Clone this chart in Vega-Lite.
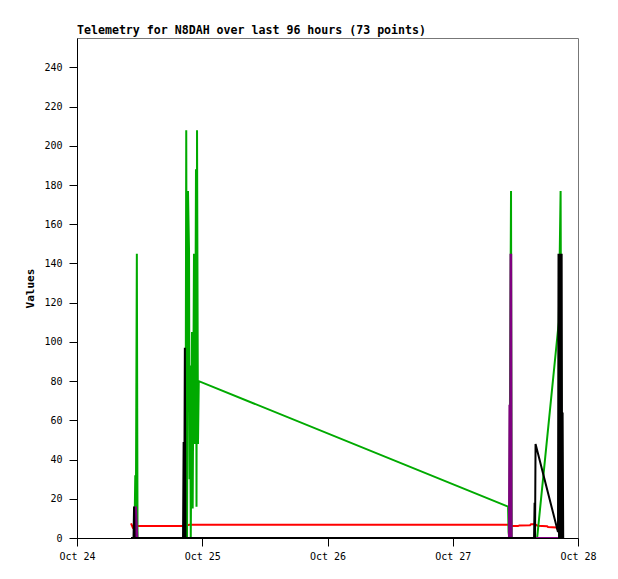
{
  "$schema": "https://vega.github.io/schema/vega-lite/v6.json",
  "width": 501,
  "height": 500,
  "autosize": {"type": "none"},
  "padding": {"left": 77, "top": 38, "right": 40, "bottom": 41},
  "background": "white",
  "title": {
    "text": "Telemetry for N8DAH over last 96 hours (73 points)",
    "anchor": "start",
    "frame": "group",
    "font": "DejaVu Sans Mono",
    "fontSize": 11.6,
    "fontWeight": "bold",
    "color": "black",
    "offset": 1
  },
  "config": {
    "view": {"stroke": "#777777", "strokeWidth": 1},
    "axis": {
      "domainColor": "black",
      "tickColor": "black",
      "labelColor": "black",
      "labelFont": "DejaVu Sans Mono",
      "labelFontSize": 10,
      "grid": false,
      "tickSize": 8
    }
  },
  "data": {
    "values": [
      {"t": "2023-10-24T10:21", "c": "red", "v": 7.5},
      {"t": "2023-10-24T10:40", "c": "red", "v": 5.5},
      {"t": "2023-10-24T10:50", "c": "red", "v": 6.1},
      {"t": "2023-10-24T20:30", "c": "red", "v": 6.1},
      {"t": "2023-10-24T21:30", "c": "red", "v": 6.8},
      {"t": "2023-10-27T10:40", "c": "red", "v": 6.8},
      {"t": "2023-10-27T11:10", "c": "red", "v": 6.1},
      {"t": "2023-10-27T12:31", "c": "red", "v": 6.1},
      {"t": "2023-10-27T12:45", "c": "red", "v": 6.4},
      {"t": "2023-10-27T14:49", "c": "red", "v": 6.5},
      {"t": "2023-10-27T15:00", "c": "red", "v": 7.0},
      {"t": "2023-10-27T15:45", "c": "red", "v": 7.0},
      {"t": "2023-10-27T16:15", "c": "red", "v": 6.3},
      {"t": "2023-10-27T18:05", "c": "red", "v": 6.0},
      {"t": "2023-10-27T18:15", "c": "red", "v": 5.6},
      {"t": "2023-10-27T19:50", "c": "red", "v": 5.4},
      {"t": "2023-10-27T20:11", "c": "red", "v": 4.1},

      {"t": "2023-10-24T10:21", "c": "green", "v": 0},
      {"t": "2023-10-24T11:00", "c": "green", "v": 0},
      {"t": "2023-10-24T11:10", "c": "green", "v": 32},
      {"t": "2023-10-24T11:16", "c": "green", "v": 0},
      {"t": "2023-10-24T11:28", "c": "green", "v": 145},
      {"t": "2023-10-24T11:36", "c": "green", "v": 0},
      {"t": "2023-10-24T20:47", "c": "green", "v": 0},
      {"t": "2023-10-24T20:56", "c": "green", "v": 208},
      {"t": "2023-10-24T21:05", "c": "green", "v": 0},
      {"t": "2023-10-24T21:16", "c": "green", "v": 177},
      {"t": "2023-10-24T21:28", "c": "green", "v": 147},
      {"t": "2023-10-24T21:34", "c": "green", "v": 30},
      {"t": "2023-10-24T21:40", "c": "green", "v": 88},
      {"t": "2023-10-24T21:48", "c": "green", "v": 0},
      {"t": "2023-10-24T21:57", "c": "green", "v": 63},
      {"t": "2023-10-24T22:02", "c": "green", "v": 105},
      {"t": "2023-10-24T22:10", "c": "green", "v": 15},
      {"t": "2023-10-24T22:25", "c": "green", "v": 145},
      {"t": "2023-10-24T22:37", "c": "green", "v": 48},
      {"t": "2023-10-24T22:48", "c": "green", "v": 188},
      {"t": "2023-10-24T22:54", "c": "green", "v": 16},
      {"t": "2023-10-24T23:00", "c": "green", "v": 208},
      {"t": "2023-10-24T23:11", "c": "green", "v": 48},
      {"t": "2023-10-24T23:20", "c": "green", "v": 80},
      {"t": "2023-10-27T10:36", "c": "green", "v": 16},
      {"t": "2023-10-27T10:42", "c": "green", "v": 3},
      {"t": "2023-10-27T10:50", "c": "green", "v": 0},
      {"t": "2023-10-27T11:10", "c": "green", "v": 177},
      {"t": "2023-10-27T11:17", "c": "green", "v": 0},
      {"t": "2023-10-27T16:10", "c": "green", "v": 0},
      {"t": "2023-10-27T20:19", "c": "green", "v": 110},
      {"t": "2023-10-27T20:40", "c": "green", "v": 177},
      {"t": "2023-10-27T20:52", "c": "green", "v": 0},

      {"t": "2023-10-24T10:21", "c": "purple", "v": 0},
      {"t": "2023-10-24T11:00", "c": "purple", "v": 0},
      {"t": "2023-10-24T11:05", "c": "purple", "v": 16},
      {"t": "2023-10-24T11:12", "c": "purple", "v": 0},
      {"t": "2023-10-24T11:18", "c": "purple", "v": 16},
      {"t": "2023-10-24T11:26", "c": "purple", "v": 8},
      {"t": "2023-10-24T11:34", "c": "purple", "v": 0},
      {"t": "2023-10-27T10:46", "c": "purple", "v": 0},
      {"t": "2023-10-27T10:52", "c": "purple", "v": 68},
      {"t": "2023-10-27T10:58", "c": "purple", "v": 0},
      {"t": "2023-10-27T11:04", "c": "purple", "v": 145},
      {"t": "2023-10-27T11:08", "c": "purple", "v": 0},
      {"t": "2023-10-27T11:12", "c": "purple", "v": 145},
      {"t": "2023-10-27T11:17", "c": "purple", "v": 0},
      {"t": "2023-10-27T21:10", "c": "purple", "v": 0},

      {"t": "2023-10-24T10:21", "c": "black", "v": 0},
      {"t": "2023-10-24T10:50", "c": "black", "v": 0},
      {"t": "2023-10-24T10:56", "c": "black", "v": 16},
      {"t": "2023-10-24T11:02", "c": "black", "v": 0},
      {"t": "2023-10-24T20:19", "c": "black", "v": 0},
      {"t": "2023-10-24T20:26", "c": "black", "v": 49},
      {"t": "2023-10-24T20:32", "c": "black", "v": 0},
      {"t": "2023-10-24T20:40", "c": "black", "v": 97},
      {"t": "2023-10-24T20:47", "c": "black", "v": 0},
      {"t": "2023-10-27T15:35", "c": "black", "v": 0},
      {"t": "2023-10-27T15:41", "c": "black", "v": 18},
      {"t": "2023-10-27T15:46", "c": "black", "v": 0},
      {"t": "2023-10-27T15:52", "c": "black", "v": 48},
      {"t": "2023-10-27T20:10", "c": "black", "v": 3},
      {"t": "2023-10-27T20:16", "c": "black", "v": 145},
      {"t": "2023-10-27T20:22", "c": "black", "v": 0},
      {"t": "2023-10-27T20:28", "c": "black", "v": 145},
      {"t": "2023-10-27T20:34", "c": "black", "v": 0},
      {"t": "2023-10-27T20:40", "c": "black", "v": 145},
      {"t": "2023-10-27T20:46", "c": "black", "v": 0},
      {"t": "2023-10-27T20:52", "c": "black", "v": 145},
      {"t": "2023-10-27T20:58", "c": "black", "v": 0},
      {"t": "2023-10-27T21:03", "c": "black", "v": 64},
      {"t": "2023-10-27T21:10", "c": "black", "v": 0}
    ]
  },
  "encoding": {
    "x": {
      "field": "t",
      "type": "temporal",
      "scale": {
        "domain": [{"year": 2023, "month": 10, "date": 24}, {"year": 2023, "month": 10, "date": 28}],
        "nice": false
      },
      "axis": {
        "title": null,
        "format": "%b %d",
        "tickCount": {"interval": "day", "step": 1},
        "labelPadding": 5,
        "labelFlush": false,
        "labelOverlap": false
      }
    },
    "y": {
      "field": "v",
      "type": "quantitative",
      "scale": {"domain": [0, 255], "nice": false, "zero": true},
      "axis": {
        "title": "Values",
        "titleFont": "DejaVu Sans Mono",
        "titleFontSize": 11,
        "titleFontWeight": "bold",
        "titleColor": "black",
        "titlePadding": 8,
        "values": [0, 20, 40, 60, 80, 100, 120, 140, 160, 180, 200, 220, 240],
        "labelPadding": 7
      }
    }
  },
  "layer": [
    {
      "transform": [{"filter": "datum.c === 'red'"}],
      "mark": {"type": "line", "color": "#ff0000", "strokeWidth": 2, "clip": true}
    },
    {
      "transform": [{"filter": "datum.c === 'green'"}],
      "mark": {"type": "line", "color": "#00aa00", "strokeWidth": 2, "clip": true}
    },
    {
      "transform": [{"filter": "datum.c === 'purple'"}],
      "mark": {"type": "line", "color": "#7f007f", "strokeWidth": 2, "clip": true}
    },
    {
      "transform": [{"filter": "datum.c === 'black'"}],
      "mark": {"type": "line", "color": "#000000", "strokeWidth": 2, "clip": true}
    }
  ]
}
